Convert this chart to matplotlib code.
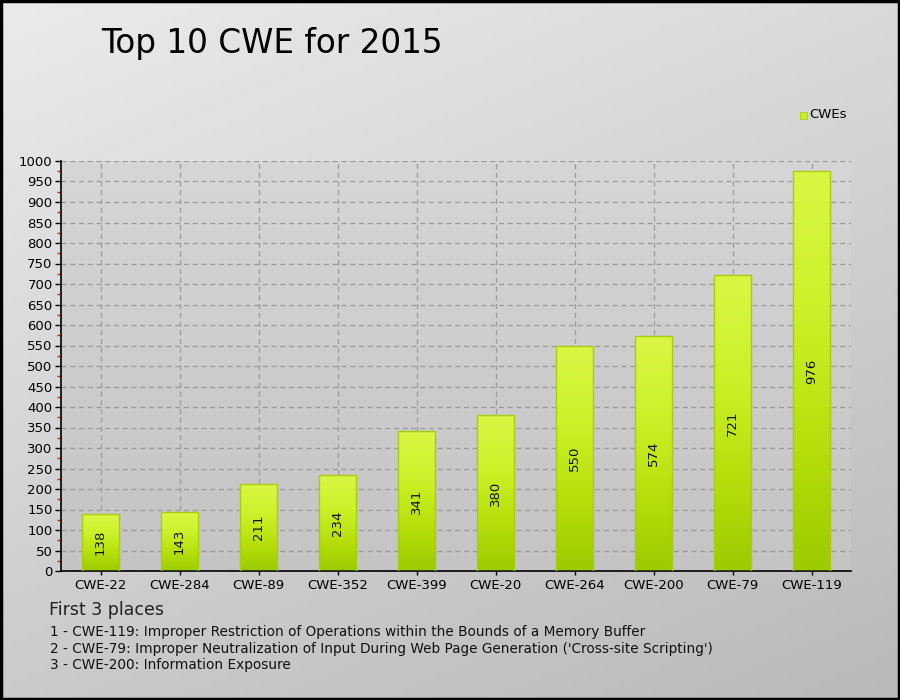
import numpy as np
import matplotlib
matplotlib.use("Agg")
import matplotlib.pyplot as plt
from matplotlib.colors import LinearSegmentedColormap
from matplotlib.ticker import MultipleLocator

# -----------------------------
# Data
# -----------------------------
categories = ["CWE-22", "CWE-284", "CWE-89", "CWE-352", "CWE-399",
              "CWE-20", "CWE-264", "CWE-200", "CWE-79", "CWE-119"]
counts = [138, 143, 211, 234, 341, 380, 550, 574, 721, 976]
title = "Top 10 CWE for 2015"
series_name = "CWEs"
notes_title = "First 3 places"
notes = [
    "1 - CWE-119: Improper Restriction of Operations within the Bounds of a Memory Buffer",
    "2 - CWE-79: Improper Neutralization of Input During Web Page Generation ('Cross-site Scripting')",
    "3 - CWE-200: Information Exposure",
]

plt.rcParams["font.family"] = ["DejaVu Sans"]

fig = plt.figure(figsize=(9, 7), dpi=100)

# -----------------------------
# Figure background gradient
# -----------------------------
bg = fig.add_axes([0, 0, 1, 1], zorder=-10)
yy, xx = np.mgrid[0:1:200j, 0:1:200j]
grad = 0.65 * yy + 0.35 * xx
bg_cmap = LinearSegmentedColormap.from_list("bg", ["#ebebeb", "#b9b9b9"])
bg.imshow(grad, cmap=bg_cmap, extent=[0, 1, 0, 1], aspect="auto", origin="upper")
bg.set_xlim(0, 1)
bg.set_ylim(0, 1)
bg.axis("off")
bg.add_patch(plt.Rectangle((0.001, 0.001), 0.998, 0.997, fill=False,
                           edgecolor="black", linewidth=2.5))

# -----------------------------
# Main axes
# -----------------------------
ax = fig.add_axes([61 / 900, 1 - 571 / 700, 790 / 900, 410 / 700])
ax.set_facecolor("none")
x = np.arange(len(categories))

# plot-area gradient
pa_cmap = LinearSegmentedColormap.from_list("pa", ["#d6d6d6", "#c4c4c4"])
ax.imshow(np.linspace(0, 1, 100).reshape(-1, 1), cmap=pa_cmap,
          extent=[-0.5, len(categories) - 0.5, 0, 1000], aspect="auto",
          origin="upper", zorder=0)

bars = ax.bar(x, counts, width=0.48, color="none", edgecolor="#a8cc10",
              linewidth=1.0, zorder=3)
bar_cmap = LinearSegmentedColormap.from_list("bar", ["#d8f744", "#cdf22a", "#b8e00c", "#9ccb00"])
for b in bars:
    bx, by = b.get_x(), b.get_y()
    bw, bh = b.get_width(), b.get_height()
    im = ax.imshow(np.linspace(0, 1, 100).reshape(-1, 1), cmap=bar_cmap,
                   extent=[bx, bx + bw, by, by + bh], aspect="auto",
                   origin="upper", zorder=2)
    im.set_clip_path(b)
    ax.text(bx + bw / 2, by + bh / 2, str(int(bh)), rotation=90,
            ha="center", va="center", fontsize=9.5, color="#111111", zorder=4)
ax.set_aspect("auto")
ax.set_xlim(-0.5, len(categories) - 0.5)
ax.set_ylim(0, 1000)

# grid and ticks
ax.yaxis.set_major_locator(MultipleLocator(50))
ax.yaxis.set_minor_locator(MultipleLocator(25))
ax.set_xticks(x)
ax.set_xticklabels(categories, fontsize=9.5)
ax.tick_params(axis="y", labelsize=9.5, length=4, width=1, pad=2)
ax.tick_params(axis="y", which="minor", length=3, color="#cc2222", width=1)
ax.tick_params(axis="x", length=3, width=1, pad=3)
ax.grid(True, which="major", linestyle=(0, (4, 3)), color="#9a9a9a",
        linewidth=0.9, zorder=1)
ax.set_axisbelow(True)

for side in ["top", "right"]:
    ax.spines[side].set_visible(False)
ax.spines["left"].set_linewidth(1.2)
ax.spines["bottom"].set_linewidth(1.2)

# -----------------------------
# Title, legend and notes
# -----------------------------
fig.text(101 / 900, 1 - 43 / 700, title, fontsize=23.5, ha="left", va="center")

fig.patches.append(plt.Rectangle((800 / 900, 1 - 118.5 / 700), 7 / 900, 7 / 700,
                                 transform=fig.transFigure, facecolor="#c8f020",
                                 edgecolor="#a8cc10", linewidth=0.5))
fig.text(809 / 900, 1 - 115 / 700, series_name, fontsize=9.5, ha="left", va="center")

fig.text(49 / 900, 1 - 610 / 700, notes_title, fontsize=12.5, ha="left", va="center",
         color="#222222")
for i, line in enumerate(notes):
    fig.text(50 / 900, 1 - (632 + i * 16.5) / 700, line, fontsize=9.8,
             ha="left", va="center", color="#111111")

plt.savefig("out.png", dpi=100)
plt.close()
